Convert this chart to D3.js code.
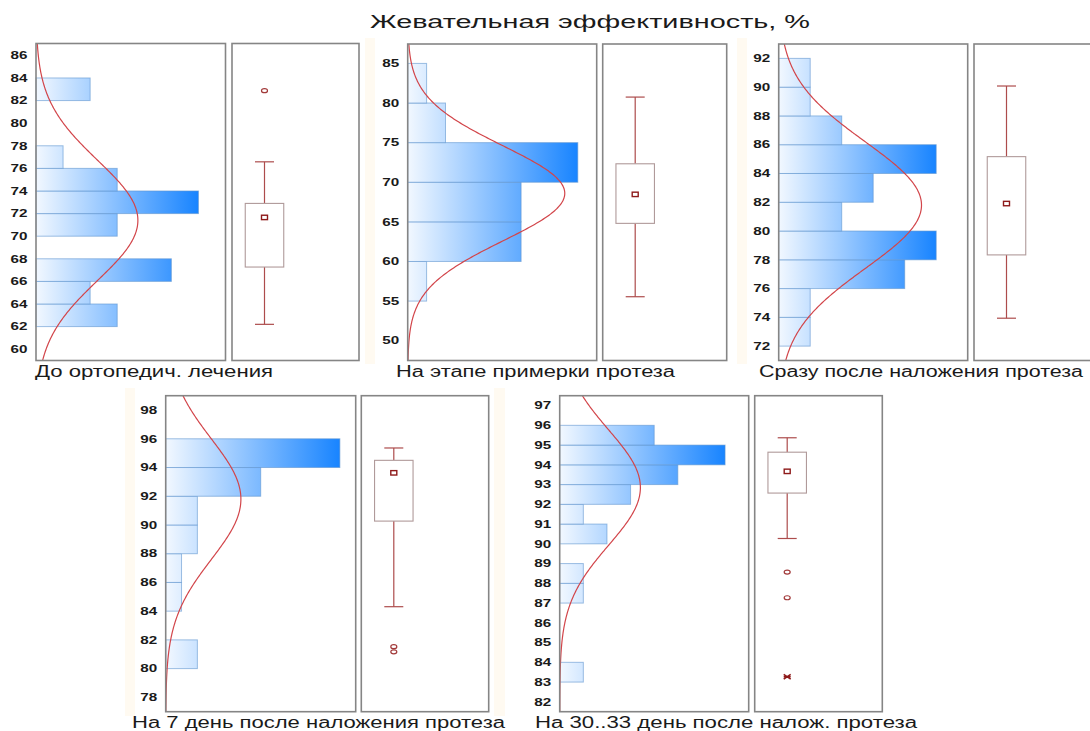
<!DOCTYPE html>
<html>
<head>
<meta charset="utf-8">
<script src="https://cdn.jsdelivr.net/npm/d3@7"></script>
<style>
  body { margin: 0; background: #fff; }
  svg { display: block; }
  text { font-family: "Liberation Sans", Arial, sans-serif; fill: #1a1a1a; }
</style>
</head>
<body>
<svg id="chart" width="1090" height="731"></svg>
<script>
// ---- data -------------------------------------------------------------
const chartTitle = "Жевательная эффективность, %";
const panelTitles = [
  "До ортопедич. лечения",
  "На этапе примерки протеза",
  "Сразу после наложения протеза",
  "На 7 день после наложения протеза",
  "На 30..33 день после налож. протеза"
];
const sampleSize = 25;
const binWidth = [2, 5, 2, 2, 1];
const binLow = [
  [62, 64, 66, 70, 72, 74, 76, 82],
  [55, 60, 65, 70, 75, 80],
  [72, 74, 76, 78, 80, 82, 84, 86, 88, 90],
  [80, 84, 86, 88, 90, 92, 94],
  [83, 87, 88, 90, 91, 92, 93, 94, 95]
];
const binCount = [
  [3, 2, 5, 3, 6, 3, 1, 2],
  [1, 6, 6, 9, 2, 1],
  [1, 1, 4, 5, 2, 3, 5, 2, 1, 1],
  [2, 1, 1, 2, 2, 6, 11],
  [1, 1, 1, 2, 1, 3, 5, 7, 4]
];
const valueDomain = [[59, 87.05], [47.5, 87.45], [71, 93], [77, 99], [81.5, 97.5]];
const countDomainMax = [7, 10, 6, 12, 8];
const valueTicks = [
  [60, 62, 64, 66, 68, 70, 72, 74, 76, 78, 80, 82, 84, 86],
  [50, 55, 60, 65, 70, 75, 80, 85],
  [72, 74, 76, 78, 80, 82, 84, 86, 88, 90, 92],
  [78, 80, 82, 84, 86, 88, 90, 92, 94, 96, 98],
  [82, 83, 84, 85, 86, 87, 88, 89, 90, 91, 92, 93, 94, 95, 96, 97]
];
// fitted normal curve parameters
const fitMean = [71.4, 68.6, 81.8, 91.8, 92.85];
const fitSD = [5.3, 6.0, 4.4, 4.2, 2.92];
// box plot statistics: median, quartiles, non-outlier range, outliers, extremes
const boxMedian = [71.66, 68.47, 81.91, 93.63, 93.67];
const boxQ1 = [67.27, 64.81, 78.34, 90.27, 92.57];
const boxQ3 = [72.9, 72.33, 85.17, 94.5, 94.64];
const whiskerLow = [62.2, 55.55, 73.94, 84.31, 90.27];
const whiskerHigh = [76.58, 80.75, 90.08, 95.36, 95.37];
const outliers = [[82.88], [], [], [81.53, 81.17], [88.57, 87.27]];
const extremes = [[], [], [], [], [83.27]];

// ---- layout -----------------------------------------------------------
const layout = [
  { hx: 36,    hw: 189.5, bx: 232,   bw: 127,   y: 43.5,  h: 317,   lx: 35,  lw: 238, ly: 377 },
  { hx: 407.7, hw: 189,   bx: 602.7, bw: 124,   y: 44,    h: 316.5, lx: 396, lw: 279, ly: 377 },
  { hx: 778.7, hw: 189,   bx: 974,   bw: 127,   y: 44,    h: 316.5, lx: 759, lw: 324, ly: 377 },
  { hx: 165.7, hw: 190,   bx: 361.3, bw: 127.4, y: 395.7, h: 316,   lx: 132, lw: 373, ly: 728 },
  { hx: 559.7, hw: 189,   bx: 754.7, bw: 127.6, y: 395.7, h: 316,   lx: 535, lw: 382, ly: 728 }
];
const faintStrips = [
  { x: 365, y: 38, w: 10, h: 326 },
  { x: 737, y: 38, w: 10, h: 326 },
  { x: 125, y: 388, w: 10, h: 328 },
  { x: 494, y: 388, w: 11, h: 328 }
];

const svg = d3.select("#chart");
const defs = svg.append("defs");

svg.selectAll("rect.strip").data(faintStrips).join("rect")
  .attr("class", "strip")
  .attr("x", d => d.x).attr("y", d => d.y)
  .attr("width", d => d.w).attr("height", d => d.h)
  .attr("fill", "#fff6e4").attr("opacity", 0.5);

svg.append("text")
  .attr("x", 370).attr("y", 28)
  .attr("font-size", 17.5)
  .attr("textLength", 440).attr("lengthAdjust", "spacingAndGlyphs")
  .text(chartTitle);

const frameColor = "#858585";
const curveColor = "#d2454a";
const whiskerColor = "#ad4c4c";
const markColor = "#8e1a1a";

layout.forEach((L, i) => {
  const g = svg.append("g");
  const y = d3.scaleLinear().domain(valueDomain[i]).range([L.y + L.h, L.y]);
  const x = d3.scaleLinear().domain([0, countDomainMax[i]]).range([L.hx, L.hx + L.hw]);
  const maxCount = d3.max(binCount[i]);

  // gradient running from the zero line to the tallest bar
  const gradId = "barGrad" + i;
  const grad = defs.append("linearGradient")
    .attr("id", gradId).attr("gradientUnits", "userSpaceOnUse")
    .attr("x1", x(0)).attr("x2", x(maxCount)).attr("y1", 0).attr("y2", 0);
  grad.append("stop").attr("offset", 0).attr("stop-color", "#f2f8ff");
  grad.append("stop").attr("offset", 1).attr("stop-color", "#1884ff");

  const clipId = "clip" + i;
  defs.append("clipPath").attr("id", clipId)
    .append("rect").attr("x", L.hx).attr("y", L.y).attr("width", L.hw).attr("height", L.h);

  // histogram bars
  const bins = binLow[i].map((lo, k) => ({ lo, hi: lo + binWidth[i], n: binCount[i][k] }));
  g.append("g").selectAll("rect").data(bins).join("rect")
    .attr("x", x(0))
    .attr("y", d => y(d.hi))
    .attr("width", d => x(d.n) - x(0))
    .attr("height", d => y(d.lo) - y(d.hi))
    .attr("fill", `url(#${gradId})`)
    .attr("stroke", "#5f95cf").attr("stroke-opacity", 0.6).attr("stroke-width", 1);

  // fitted normal curve, scaled to expected counts per bin
  const vals = d3.range(valueDomain[i][0], valueDomain[i][1] + 0.001, (valueDomain[i][1] - valueDomain[i][0]) / 300);
  const m = fitMean[i], s = fitSD[i];
  const expected = v => sampleSize * binWidth[i] * Math.exp(-((v - m) ** 2) / (2 * s * s)) / (s * Math.sqrt(2 * Math.PI));
  g.append("path")
    .attr("clip-path", `url(#${clipId})`)
    .attr("d", d3.line().x(v => x(expected(v))).y(v => y(v)).curve(d3.curveBasis)(vals))
    .attr("fill", "none").attr("stroke", curveColor).attr("stroke-width", 1.2);

  // frames
  g.append("rect").attr("x", L.hx).attr("y", L.y).attr("width", L.hw).attr("height", L.h)
    .attr("fill", "none").attr("stroke", frameColor).attr("stroke-width", 1.6);
  g.append("rect").attr("x", L.bx).attr("y", L.y).attr("width", L.bw).attr("height", L.h)
    .attr("fill", "none").attr("stroke", frameColor).attr("stroke-width", 1.6);

  // value axis labels
  g.append("g").selectAll("text").data(valueTicks[i]).join("text")
    .attr("transform", v => `translate(${L.hx - 8.5},${y(v)}) scale(1.45,1)`)
    .attr("text-anchor", "end").attr("dy", "0.36em")
    .attr("font-size", 10.5).attr("font-weight", 600).attr("fill", "#333")
    .text(v => v);

  // box plot
  const cx = L.bx + 32.5, bw = 38.5, capW = 19;
  const bg = g.append("g");
  bg.append("line").attr("x1", cx).attr("x2", cx).attr("y1", y(whiskerHigh[i])).attr("y2", y(boxQ3[i]))
    .attr("stroke", whiskerColor).attr("stroke-width", 1.2);
  bg.append("line").attr("x1", cx).attr("x2", cx).attr("y1", y(boxQ1[i])).attr("y2", y(whiskerLow[i]))
    .attr("stroke", whiskerColor).attr("stroke-width", 1.2);
  [whiskerHigh[i], whiskerLow[i]].forEach(v => {
    bg.append("line").attr("x1", cx - capW / 2).attr("x2", cx + capW / 2).attr("y1", y(v)).attr("y2", y(v))
      .attr("stroke", whiskerColor).attr("stroke-width", 1.2);
  });
  bg.append("rect").attr("x", cx - bw / 2).attr("y", y(boxQ3[i]))
    .attr("width", bw).attr("height", y(boxQ1[i]) - y(boxQ3[i]))
    .attr("fill", "#fff").attr("stroke", "#b09a9a").attr("stroke-width", 1.1);
  bg.append("rect").attr("x", cx - 3).attr("y", y(boxMedian[i]) - 2.2)
    .attr("width", 6).attr("height", 4.4)
    .attr("fill", "#fff").attr("stroke", markColor).attr("stroke-width", 1.4);
  bg.selectAll("ellipse").data(outliers[i]).join("ellipse")
    .attr("cx", cx).attr("cy", v => y(v)).attr("rx", 3).attr("ry", 2)
    .attr("fill", "none").attr("stroke", "#a23a3a").attr("stroke-width", 1.2);
  extremes[i].forEach(v => {
    const ey = y(v);
    const p = d3.path();
    p.moveTo(cx - 3.5, ey - 2.4); p.lineTo(cx + 3.5, ey + 2.4);
    p.moveTo(cx + 3.5, ey - 2.4); p.lineTo(cx - 3.5, ey + 2.4);
    p.moveTo(cx - 3.5, ey); p.lineTo(cx + 3.5, ey);
    bg.append("path").attr("d", p.toString()).attr("stroke", markColor).attr("stroke-width", 1.6).attr("fill", "none");
  });

  // panel caption
  g.append("text").attr("x", L.lx).attr("y", L.ly)
    .attr("font-size", 16)
    .attr("textLength", L.lw).attr("lengthAdjust", "spacingAndGlyphs")
    .text(panelTitles[i]);
});
</script>
</body>
</html>
